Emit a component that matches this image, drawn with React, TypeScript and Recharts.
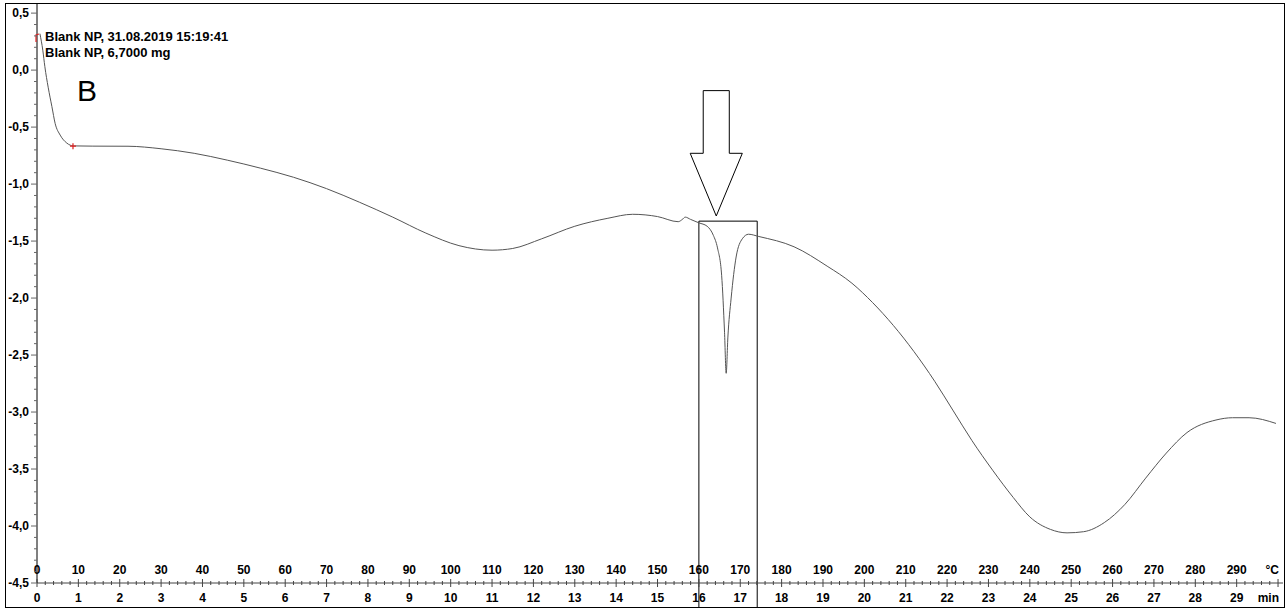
import {
  ComposedChart,
  Line,
  XAxis,
  YAxis,
  ReferenceArea,
  ReferenceDot,
} from "recharts";

// time in min (1 min = 10 °C on the upper scale)
const minutes = [
  0.07, 0.14, 0.19, 0.27, 0.36, 0.44, 0.56, 0.72, 0.88, 1.35, 2.2, 3.0, 3.8,
  4.6, 5.4, 6.2, 7.0, 7.8, 8.6, 9.4, 10.2, 11.0, 11.5, 12.2, 13.0, 13.8, 14.4,
  15.0, 15.5, 15.6, 15.67, 15.8, 16.0, 16.2, 16.35, 16.45, 16.55, 16.62, 16.66,
  16.7, 16.78, 16.9, 17.05, 17.2, 17.45, 18.3, 19.1, 19.7, 20.2, 20.7, 21.2,
  21.7, 22.15, 22.6, 23.1, 23.6, 24.0, 24.5, 24.9, 25.3, 25.8, 26.3, 26.8,
  27.3, 27.8, 28.5, 28.9, 29.3, 29.95,
];
const signal = [
  0.32, 0.175, 0.03, -0.15, -0.32, -0.47, -0.57, -0.64, -0.665, -0.667, -0.668,
  -0.69, -0.73, -0.79, -0.86, -0.94, -1.04, -1.16, -1.29, -1.43, -1.54, -1.58,
  -1.565, -1.48, -1.37, -1.3, -1.265, -1.285, -1.33, -1.31, -1.29, -1.31, -1.34,
  -1.37, -1.45, -1.56, -1.8, -2.3, -2.66, -2.35, -2.0, -1.64, -1.48, -1.44,
  -1.46, -1.55, -1.72, -1.87, -2.04, -2.24, -2.47, -2.73, -2.99, -3.25, -3.51,
  -3.75, -3.92, -4.03, -4.06, -4.05, -3.97, -3.81, -3.58, -3.36, -3.18, -3.07,
  -3.05, -3.05, -3.1,
];

const yMajor = [-4.5, -4, -3.5, -3, -2.5, -2, -1.5, -1, -0.5, 0, 0.5];
const yTicks: number[] = [];
for (let i = -45; i <= 5; i++) yTicks.push(i / 10);
const xTicks: number[] = [];
for (let i = 0; i <= 150; i++) xTicks.push(i / 5);

const startMarker = { x: 0, y: 0.29 };
const crossMarker = { x: 0.87, y: -0.667 };
const peakBox = { x1: 16.0, x2: 17.41, y1: -4.72, y2: -1.325 };
const arrowBox = { x1: 15.79, x2: 17.05, y1: -1.28, y2: -0.18 };

const data = minutes.map((m, i) => ({ t: m, v: signal[i] }));

const FONT = '"Liberation Sans", Arial, sans-serif';

const fmt = (v: number) => v.toFixed(1).replace(".", ",").replace("-0,0", "0,0");

const YTick = (props: any) => {
  const { x, y, payload } = props;
  const v = payload.value as number;
  const major = yMajor.some((m) => Math.abs(m - v) < 1e-6);
  return (
    <g>
      <line x1={x - (major ? 6 : 3)} x2={x} y1={y} y2={y} stroke="#666" />
      {major && (
        <text x={x - 8} y={y + 4} textAnchor="end" fontSize={12} fontWeight="bold" fontFamily={FONT} fill="#000">
          {fmt(v)}
        </text>
      )}
    </g>
  );
};

const XTick = (props: any) => {
  const { x, y, payload } = props;
  const v = payload.value as number;
  const major = Math.abs(v - Math.round(v)) < 1e-6;
  const last = Math.abs(v - 30) < 1e-6;
  return (
    <g>
      <line x1={x} x2={x} y1={y - (major ? 4 : 2)} y2={y + (major ? 4 : 2)} stroke="#444" />
      {major && !last && (
        <>
          <text x={x} y={y - 9} textAnchor="middle" fontSize={12} fontWeight="bold" fontFamily={FONT} fill="#000">
            {Math.round(v * 10)}
          </text>
          <text x={x} y={y + 19} textAnchor="middle" fontSize={12} fontWeight="bold" fontFamily={FONT} fill="#000">
            {Math.round(v)}
          </text>
        </>
      )}
      {last && (
        <>
          <text x={x + 1} y={y - 9} textAnchor="end" fontSize={12} fontWeight="bold" fontFamily={FONT} fill="#000">
            °C
          </text>
          <text x={x + 1} y={y + 19} textAnchor="end" fontSize={12} fontWeight="bold" fontFamily={FONT} fill="#000">
            min
          </text>
        </>
      )}
    </g>
  );
};

// open block arrow drawn inside its reference box
const ArrowShape = (props: any) => {
  const { x, y, width, height } = props;
  const cx = x + width / 2;
  const sw = width * 0.25;
  const sy = y + height * 0.5;
  const pts = [
    [cx - sw, y],
    [cx + sw, y],
    [cx + sw, sy],
    [x + width, sy],
    [cx, y + height],
    [x, sy],
    [cx - sw, sy],
  ]
    .map((p) => p.join(","))
    .join(" ");
  return <polygon points={pts} fill="#fff" stroke="#000" strokeWidth={1} />;
};

const StartShape = (props: any) => {
  const { cx, cy } = props;
  return <path d={`M${cx - 1},${cy + 5} L${cx - 1},${cy - 2} L${cx + 2},${cy - 3}`} stroke="#d22" fill="none" strokeWidth={1.2} />;
};

const CrossShape = (props: any) => {
  const { cx, cy } = props;
  return <path d={`M${cx - 3},${cy} L${cx + 3},${cy} M${cx},${cy - 3} L${cx},${cy + 3}`} stroke="#d22" strokeWidth={1.2} />;
};

export default function App() {
  return (
    <div style={{ position: "absolute", left: 0, top: 0, width: 1288, height: 608, background: "#fff", fontFamily: FONT }}>
      <div style={{ position: "absolute", left: 5, top: 3, width: 1278, height: 603, border: "1px solid #000" }} />
      <ComposedChart
        width={1288}
        height={608}
        data={data}
        margin={{ top: 4, right: 5, left: 0, bottom: 0 }}
        style={{ position: "absolute", left: 0, top: 0 }}
      >
        <XAxis
          dataKey="t"
          type="number"
          domain={[0, 30.12]}
          ticks={xTicks}
          interval={0}
          tickSize={0}
          tickMargin={0}
          tick={<XTick />}
          height={25}
          stroke="#444"
          allowDataOverflow
        />
        <YAxis
          type="number"
          domain={[-4.5, 0.58]}
          ticks={yTicks}
          interval={0}
          tickSize={0}
          tickMargin={0}
          tick={<YTick />}
          width={37}
          stroke="#000"
          allowDataOverflow
        />
        <ReferenceArea
          x1={peakBox.x1}
          x2={peakBox.x2}
          y1={peakBox.y1}
          y2={peakBox.y2}
          ifOverflow="visible"
          fill="none"
          fillOpacity={0}
          stroke="#000"
          strokeWidth={1}
        />
        <ReferenceArea
          x1={arrowBox.x1}
          x2={arrowBox.x2}
          y1={arrowBox.y1}
          y2={arrowBox.y2}
          ifOverflow="visible"
          shape={(p: any) => <ArrowShape {...p} />}
        />
        <Line
          dataKey="v"
          type="monotone"
          stroke="#555"
          strokeWidth={1}
          dot={false}
          isAnimationActive={false}
        />
        <ReferenceDot x={startMarker.x} y={startMarker.y} ifOverflow="visible" shape={(p: any) => <StartShape {...p} />} />
        <ReferenceDot x={crossMarker.x} y={crossMarker.y} ifOverflow="visible" shape={(p: any) => <CrossShape {...p} />} />
      </ComposedChart>
      <div style={{ position: "absolute", left: 45, top: 29, fontSize: 13, fontWeight: "bold", lineHeight: "16px", whiteSpace: "nowrap" }}>
        <div>Blank NP, 31.08.2019 15:19:41</div>
        <div>Blank NP, 6,7000 mg</div>
      </div>
      <div style={{ position: "absolute", left: 77, top: 74, fontSize: 30, lineHeight: "34px" }}>B</div>
    </div>
  );
}
